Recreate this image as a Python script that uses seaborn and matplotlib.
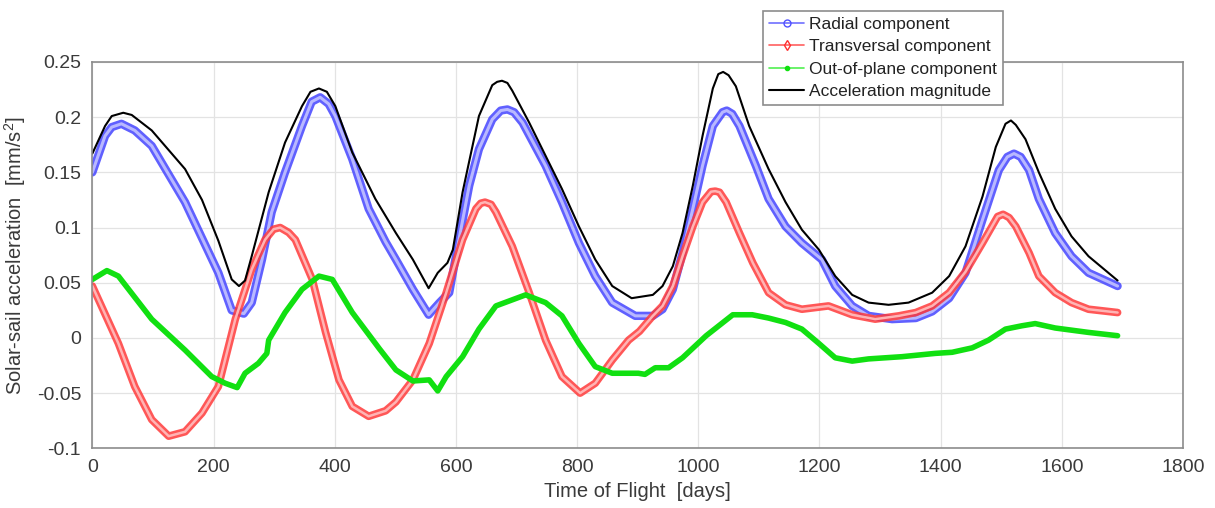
import numpy as np
import matplotlib
matplotlib.use("Agg")
import matplotlib.pyplot as plt
import seaborn as sns
from matplotlib.lines import Line2D

# ---- data (days, mm/s^2) ----
t_rad = [0, 21, 32, 48, 70, 98, 153, 208, 230, 250, 263, 280, 296, 318, 346, 362, 376, 390, 401, 429,
         456, 484, 501, 529, 555, 573, 589, 605, 622, 638, 660, 674, 685, 696, 710, 748, 775, 803, 830, 858,
         896, 925, 941, 958, 974, 991, 1007, 1024, 1040, 1047, 1056, 1068, 1095, 1116, 1144, 1171, 1204,
         1226, 1254, 1281, 1320, 1359, 1386, 1414, 1441, 1469, 1496, 1510, 1521, 1532, 1546, 1562, 1589,
         1616, 1644, 1692]
a_rad = [0.150, 0.183, 0.191, 0.194, 0.188, 0.174, 0.123, 0.059, 0.025, 0.022, 0.032, 0.071, 0.114, 0.150,
         0.192, 0.214, 0.218, 0.212, 0.201, 0.162, 0.117, 0.087, 0.071, 0.044, 0.021, 0.032, 0.041, 0.089,
         0.138, 0.171, 0.198, 0.206, 0.207, 0.2045, 0.195, 0.156, 0.123, 0.086, 0.056, 0.032, 0.020, 0.020,
         0.026, 0.044, 0.077, 0.117, 0.156, 0.192, 0.2045, 0.206, 0.203, 0.192, 0.156, 0.126, 0.101, 0.086,
         0.071, 0.047, 0.029, 0.020, 0.017, 0.018, 0.024, 0.036, 0.059, 0.107, 0.152, 0.164, 0.167, 0.164,
         0.152, 0.126, 0.095, 0.074, 0.059, 0.047]

t_trans = [0, 43, 70, 98, 126, 153, 181, 208, 236, 263, 285, 299, 310, 324, 335, 363, 385, 407, 429, 456,
           484, 501, 529, 556, 584, 611, 633, 641, 648, 658, 666, 693, 721, 748, 775, 805, 830, 858, 885, 903,
           925, 941, 958, 974, 991, 1007, 1021, 1028, 1035, 1046, 1068, 1090, 1116, 1144, 1171, 1215, 1254,
           1292, 1331, 1359, 1386, 1414, 1441, 1469, 1494, 1503, 1513, 1524, 1546, 1562, 1589, 1616, 1644,
           1692]
a_trans = [0.047, -0.005, -0.044, -0.074, -0.089, -0.085, -0.068, -0.044, 0.017, 0.062, 0.089, 0.0985, 0.100,
           0.0955, 0.089, 0.053, 0.005, -0.038, -0.062, -0.071, -0.066, -0.058, -0.038, -0.005, 0.041, 0.089,
           0.117, 0.122, 0.123, 0.121, 0.114, 0.083, 0.041, -0.002, -0.035, -0.050, -0.041, -0.020, -0.002,
           0.006, 0.020, 0.029, 0.047, 0.074, 0.101, 0.123, 0.1325, 0.133, 0.132, 0.123, 0.095, 0.068, 0.041,
           0.030, 0.026, 0.029, 0.021, 0.017, 0.020, 0.023, 0.029, 0.041, 0.060, 0.086, 0.110, 0.112, 0.109,
           0.101, 0.077, 0.056, 0.041, 0.032, 0.026, 0.023]

t_oop = [0, 24, 43, 98, 153, 197, 219, 239, 252, 274, 288, 291, 318, 346, 374, 396, 429, 474, 501, 529,
         556, 570, 584, 611, 638, 666, 715, 748, 775, 803, 830, 858, 901, 912, 929, 951, 974, 1013, 1057, 1089,
         1116, 1144, 1171, 1199, 1226, 1254, 1281, 1336, 1391, 1419, 1452, 1479, 1507, 1534, 1556, 1589,
         1644, 1692]
a_oop = [0.053, 0.061, 0.056, 0.017, -0.011, -0.035, -0.041, -0.045, -0.032, -0.023, -0.014, -0.002, 0.023,
         0.044, 0.056, 0.053, 0.023, -0.010, -0.029, -0.039, -0.038, -0.048, -0.035, -0.017, 0.008, 0.029,
         0.039, 0.032, 0.020, -0.005, -0.026, -0.032, -0.032, -0.033, -0.027, -0.027, -0.018, 0.002, 0.021,
         0.021, 0.018, 0.014, 0.008, -0.005, -0.018, -0.021, -0.019, -0.017, -0.014, -0.013, -0.009, -0.002,
         0.008, 0.011, 0.013, 0.009, 0.005, 0.002]

t_mag = [0, 21, 32, 51, 65, 98, 153, 181, 208, 230, 242, 252, 263, 291, 318, 346, 360, 374, 387, 401, 429,
         467, 501, 529, 555, 570, 586, 595, 611, 638, 660, 668, 676, 685, 693, 721, 748, 775, 803, 830, 858,
         890, 925, 941, 958, 974, 991, 1007, 1024, 1033, 1041, 1050, 1062, 1084, 1116, 1144, 1171, 1199,
         1226, 1254, 1281, 1314, 1347, 1386, 1414, 1441, 1469, 1491, 1507, 1516, 1524, 1540, 1562, 1589,
         1616, 1644, 1692]
a_mag = [0.167, 0.192, 0.201, 0.204, 0.202, 0.188, 0.153, 0.125, 0.088, 0.053, 0.047, 0.052, 0.074, 0.132,
         0.177, 0.210, 0.223, 0.226, 0.223, 0.210, 0.168, 0.126, 0.095, 0.071, 0.045, 0.059, 0.068, 0.080,
         0.132, 0.201, 0.229, 0.232, 0.233, 0.231, 0.224, 0.195, 0.165, 0.135, 0.101, 0.071, 0.047, 0.036,
         0.039, 0.047, 0.065, 0.095, 0.138, 0.183, 0.226, 0.239, 0.241, 0.238, 0.228, 0.192, 0.153, 0.123,
         0.098, 0.080, 0.056, 0.039, 0.032, 0.030, 0.032, 0.041, 0.056, 0.083, 0.128, 0.173, 0.194, 0.197,
         0.193, 0.180, 0.150, 0.117, 0.092, 0.074, 0.052]

labels = ["Radial component", "Transversal component", "Out-of-plane component", "Acceleration magnitude"]
x_ticks = [0, 200, 400, 600, 800, 1000, 1200, 1400, 1600, 1800]
y_ticks = [-0.1, -0.05, 0, 0.05, 0.1, 0.15, 0.2, 0.25]
y_ticklabels = ["-0.1", "-0.05", "0", "0.05", "0.1", "0.15", "0.2", "0.25"]

# ---- style ----
sns.set_style("whitegrid")
plt.rcParams["font.family"] = ["Liberation Sans", "DejaVu Sans"]
plt.rcParams["mathtext.fontset"] = "custom"
plt.rcParams["mathtext.rm"] = "Liberation Sans"
plt.rcParams["mathtext.it"] = "Liberation Sans"
text_c = "#3a3a3a"
box_c = "#8c8c8c"

fig = plt.figure(figsize=(12.15, 5.08), dpi=100)
ax = fig.add_axes([0.076, 0.1175, 0.8977, 0.7605])

blue, red, green = "#4444ff", "#ff3a3a", "#11e011"
kw = dict(estimator=None, sort=False, ax=ax, solid_joinstyle="round", solid_capstyle="round")

# marker bands (dense hollow markers in original) drawn as thick outlined strokes
sns.lineplot(x=t_rad, y=a_rad, color=blue, linewidth=6.0, alpha=0.85, **kw)
sns.lineplot(x=t_rad, y=a_rad, color="#b8b8ff", linewidth=2.2, **kw)
sns.lineplot(x=t_trans, y=a_trans, color=red, linewidth=5.5, alpha=0.85, **kw)
sns.lineplot(x=t_trans, y=a_trans, color="#ffb4b4", linewidth=1.8, **kw)
sns.lineplot(x=t_oop, y=a_oop, color=green, linewidth=4.0, **kw)
sns.lineplot(x=t_mag, y=a_mag, color="black", linewidth=1.5, **kw)

ax.set_xlim(0, 1800)
ax.set_ylim(-0.1, 0.25)
ax.set_xticks(x_ticks)
ax.set_xticklabels([str(v) for v in x_ticks])
ax.set_yticks(y_ticks)
ax.set_yticklabels(y_ticklabels)
ax.grid(True, color="#e3e3e3", linewidth=0.9)
for s in ax.spines.values():
    s.set_color(box_c)
    s.set_linewidth(1.2)
ax.tick_params(direction="in", length=5, width=1, color=box_c, labelsize=14, labelcolor=text_c, pad=8)

ax.set_xlabel("Time of Flight  [days]", fontsize=14.5, color=text_c, labelpad=4)
ax.set_ylabel("Solar-sail acceleration  [mm/s$^2$]", fontsize=14.5, color=text_c, labelpad=6)

handles = [
    Line2D([], [], color="#7070ff", lw=1.2, marker="o", mfc="none", mec="#5050ff", ms=5),
    Line2D([], [], color="#ff6060", lw=1.2, marker="d", mfc="none", mec="#ff3030", ms=5),
    Line2D([], [], color="#50f050", lw=1.2, marker=".", mfc="#10e010", mec="#10e010", ms=6),
    Line2D([], [], color="black", lw=1.5),
]
leg = ax.legend(handles, labels, loc="upper left", bbox_to_anchor=(0.615, 1.133), fontsize=12.5,
                frameon=True, fancybox=False, framealpha=1, edgecolor=box_c, borderpad=0.35,
                labelspacing=0.42, handlelength=2.0, handletextpad=0.3, borderaxespad=0, numpoints=1)
leg.get_frame().set_linewidth(1.2)
for txt in leg.get_texts():
    txt.set_color("#222222")

fig.savefig("out.png", dpi=100, facecolor="white")
